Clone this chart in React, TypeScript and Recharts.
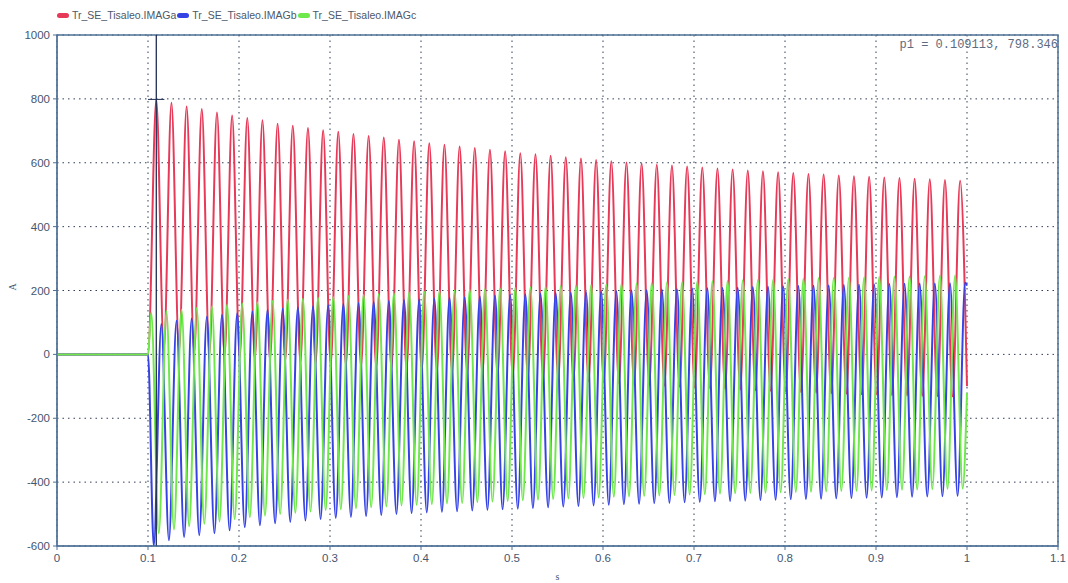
import React from 'react';
import {
  LineChart,
  Line,
  XAxis,
  YAxis,
  CartesianGrid,
  ReferenceLine,
  ReferenceArea,
} from 'recharts';

// magnetizing (inrush) currents of the 3 phases
const T = 1 / 60; // 60 Hz system
const ENERGIZE = 0.1;
const END = 1.0;

const xTicks = [0, 0.1, 0.2, 0.3, 0.4, 0.5, 0.6, 0.7, 0.8, 0.9, 1.0, 1.1];
const yTicks = [-600, -400, -200, 0, 200, 400, 600, 800, 1000];

const cursorT = 0.109113;
const cursorV = 798.346;

// phase a: peaks start at the cursor point, troughs half a cycle later
const aPeaks = [
  798, 788, 776, 768, 757, 748, 740, 733, 722, 716, 709, 702, 697, 690, 684, 679, 672, 667,
  661, 656, 651, 646, 641, 636, 630, 627, 622, 617, 613, 609, 605, 601, 598, 594, 591, 588,
  585, 582, 579, 576, 573, 570, 568, 565, 563, 560, 558, 556, 554, 552, 550, 548, 546, 544,
];
const aTroughs = [
  15, 10, 5, 0, -5, -10, -14, -18, -22, -26, -30, -33, -36, -40, -43, -46, -49, -52, -55,
  -58, -61, -64, -67, -70, -73, -76, -79, -82, -85, -88, -91, -93, -96, -98, -101, -103,
  -106, -108, -110, -112, -114, -116, -118, -120, -122, -123, -125, -126, -128, -129, -130,
  -131, -132,
];
const aEnd = -100;

// phase b: troughs 1/6 cycle before the a peaks
const bTroughs = [
  -600, -582, -572, -566, -560, -551, -541, -535, -529, -525, -520, -516, -512, -509, -506,
  -503, -500, -497, -495, -493, -491, -489, -487, -485, -483, -481, -479, -477, -475, -473,
  -471, -469, -468, -466, -465, -463, -462, -460, -459, -458, -456, -455, -454, -453, -452,
  -451, -450, -449, -448, -447, -446, -445, -444, -443,
];
const bPeaks = [
  95, 105, 112, 118, 124, 129, 134, 139, 143, 147, 151, 154, 158, 161, 164, 167, 170, 172,
  175, 177, 179, 181, 184, 186, 188, 190, 192, 193, 195, 197, 198, 200, 201, 203, 204, 206,
  207, 208, 209, 211, 212, 213, 214, 215, 216, 217, 218, 219, 220, 221, 222, 222, 223, 224,
];
const bEnd = 215;

// phase c: peaks 1/3 cycle before the a peaks
const cPeaks = [
  130, 135, 140, 145, 150, 155, 159, 163, 167, 171, 174, 177, 180, 183, 186, 189, 191, 194,
  196, 198, 200, 202, 204, 206, 208, 210, 212, 214, 215, 217, 219, 220, 222, 223, 225, 226,
  228, 229, 230, 232, 233, 234, 235, 237, 238, 239, 240, 241, 242, 243, 244, 245, 246, 247,
];
const cTroughs = [
  -560, -548, -538, -530, -523, -516, -510, -505, -500, -496, -492, -488, -485, -482, -479,
  -476, -473, -471, -469, -467, -465, -463, -461, -459, -457, -455, -453, -451, -450, -448,
  -446, -445, -443, -442, -440, -439, -438, -436, -435, -434, -433, -432, -431, -430, -429,
  -428, -427, -426, -425, -424, -423, -422, -421, -420,
];
const cEnd = -120;

type Pt = { t: number; v: number };

function buildPhase(
  hiStart: number,
  hi: number[],
  loStart: number,
  lo: number[],
  endV: number
): Pt[] {
  const pts: Pt[] = [
    { t: 0, v: 0 },
    { t: ENERGIZE, v: 0 },
  ];
  hi.forEach((v, i) => pts.push({ t: hiStart + i * T, v }));
  lo.forEach((v, i) => pts.push({ t: loStart + i * T, v }));
  const kept = pts.filter((p) => p.t < END);
  kept.push({ t: END, v: endV });
  return kept.sort((p, q) => p.t - q.t);
}

const phaseA = buildPhase(cursorT, aPeaks, cursorT + T / 2, aTroughs, aEnd);
const phaseB = buildPhase(cursorT + T / 3, bPeaks, cursorT - T / 6, bTroughs, bEnd);
const phaseC = buildPhase(cursorT - T / 3, cPeaks, cursorT + T / 6, cTroughs, cEnd);

const series = [
  { name: 'Tr_SE_Tisaleo.IMAGa', color: '#e63a58', data: phaseA },
  { name: 'Tr_SE_Tisaleo.IMAGb', color: '#3643e4', data: phaseB },
  { name: 'Tr_SE_Tisaleo.IMAGc', color: '#6fe84c', data: phaseC },
];

const axisColor = '#4f7196';
const sans = 'Liberation Sans, Arial, sans-serif';
const tickStyle = { fill: '#46566f', fontSize: 11.5, fontFamily: sans };

const LegendRow = () => (
  <div
    style={{
      position: 'absolute',
      left: 57,
      top: 9,
      display: 'flex',
      alignItems: 'center',
      fontFamily: sans,
      fontSize: 10.5,
      color: '#4c5868',
      whiteSpace: 'nowrap',
    }}
  >
    {series.map((s) => (
      <span key={s.name} style={{ display: 'inline-flex', alignItems: 'center', marginRight: 1 }}>
        <span
          style={{
            display: 'inline-block',
            width: 12,
            height: 5,
            borderRadius: 3,
            background: s.color,
            marginRight: 3,
          }}
        />
        {s.name}
      </span>
    ))}
  </div>
);

export default function App() {
  return (
    <div style={{ position: 'absolute', left: 0, top: 0, width: 1068, height: 583, background: '#fff' }}>
      <LineChart width={1068} height={583} margin={{ top: 35, right: 10, bottom: 7, left: 0 }}>
        <CartesianGrid stroke="#2e3c58" strokeDasharray="1.5 4" />
        <XAxis
          type="number"
          dataKey="t"
          domain={[0, 1.1]}
          ticks={xTicks}
          allowDataOverflow
          tickFormatter={(v: number) => String(Math.round(v * 10) / 10)}
          stroke={axisColor}
          tick={tickStyle}
          tickSize={4}
          tickMargin={4}
          height={30}
          label={{ value: 's', position: 'insideBottom', offset: -4, fill: '#46566f', fontSize: 10 }}
        />
        <YAxis
          type="number"
          domain={[-600, 1000]}
          ticks={yTicks}
          allowDataOverflow
          stroke={axisColor}
          tick={tickStyle}
          tickSize={4}
          tickMargin={3}
          width={57}
          label={{ value: 'A', angle: -90, position: 'insideLeft', offset: 12, fill: '#46566f', fontSize: 10 }}
        />
        {series.map((s) => (
          <Line
            key={s.name}
            data={s.data}
            dataKey="v"
            name={s.name}
            type="monotone"
            stroke={s.color}
            strokeWidth={2}
            dot={false}
            activeDot={false}
            isAnimationActive={false}
          />
        ))}
        <ReferenceLine x={cursorT} stroke="#1f2d52" strokeWidth={1.3} />
        <ReferenceLine
          segment={[
            { x: 0.1, y: cursorV },
            { x: 0.118, y: cursorV },
          ]}
          stroke="#1f2d52"
          strokeWidth={1}
        />
        <ReferenceArea x1={0} x2={1.1} y1={-600} y2={1000} fill="none" stroke={axisColor} strokeWidth={1.5} />
      </LineChart>
      <LegendRow />
      <div
        style={{
          position: 'absolute',
          right: 10,
          top: 38,
          fontFamily: 'Liberation Mono, DejaVu Sans Mono, monospace',
          fontSize: 12,
          color: '#5d6b80',
        }}
      >
        p1 = 0.109113, 798.346
      </div>
    </div>
  );
}
